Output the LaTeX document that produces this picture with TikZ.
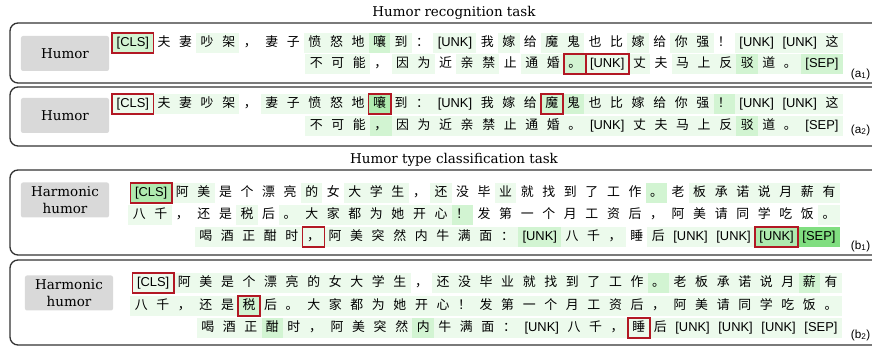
\documentclass[tikz,border=0pt]{standalone}
\usepackage{fontspec}
\setmainfont{DejaVu Serif}
\newfontfamily\cjk{Noto Sans CJK SC}
\newfontfamily\lat{Liberation Sans}
\usetikzlibrary{matrix}

\definecolor{hl}{RGB}{96,214,96}
\definecolor{boxred}{RGB}{178,24,36}
\definecolor{tagGray}{RGB}{217,217,217}

\newcommand{\CLS}{{\lat[CLS]}}
\newcommand{\UNK}{{\lat[UNK]}}
\newcommand{\SEP}{{\lat[SEP]}}

\begin{document}
\begin{tikzpicture}[
    x=0.3mm, y=-0.3mm,
    tok/.style={font=\cjk\fontsize{11}{13}\selectfont, inner xsep=1.3mm, inner ysep=0pt,
                minimum height=6mm, text height=3.1mm, text depth=0.9mm},
    s0/.style={fill=none},
    s1/.style={fill=hl!12},
    s2/.style={fill=hl!28},
    s3/.style={fill=hl!50},
    s4/.style={fill=hl!80},
    tokrow/.style={matrix of nodes, column sep=0pt, inner sep=0pt, anchor=east, nodes={tok,#1}},
    tokrow/.default=s0,
    hit/.style={draw=boxred, line width=0.55mm},
    panel/.style={draw=black!80, line width=0.4mm, rounded corners=2.4mm},
    tag/.style={fill=tagGray, rounded corners=0.6mm, minimum width=26.4mm, minimum height=10.5mm,
                align=center, font=\fontsize{11.5}{14.5}\selectfont},
    tasktitle/.style={font=\fontsize{11.5}{14}\selectfont},
    sub/.style={anchor=west, inner sep=0.5mm, font=\lat\fontsize{10}{11}\selectfont},
  ]
  \useasboundingbox (0,0) rectangle (872,347);
  \clip (0,0) rectangle (872,347);

  % Titles
  \node[tasktitle] (rec) at (454,13) {Humor recognition task};
  \node[tasktitle] (type) at (454,160) {Humor type classification task};

  % Panels
  \draw[panel] (10,23) rectangle (890,83);
  \draw[panel] (10,87) rectangle (890,146);
  \draw[panel] (10,170) rectangle (890,255);
  \draw[panel] (10,260) rectangle (890,345);

  % Class tags
  \node[tag] (tagA1) at (65,53.5) {Humor};
  \node[tag] (tagA2) at (65,115.5) {Humor};
  \node[tag] (tagB1) at (65,200) {Harmonic\\humor};
  \node[tag] (tagB2) at (69,293) {Harmonic\\humor};

  % (a1)
  \matrix (a1r1) [tokrow] at (843,43) {
    |[s2]| \CLS & 夫 & 妻 & |[s1]| 吵 & |[s1]| 架 & ， & 妻 & 子 & |[s1]| 愤 & |[s1]| 怒 & |[s1]| 地 & |[s2]| 嚷 & |[s1]| 到 & ： & |[s1]| \UNK & 我 & |[s1]| 嫁 & 给 & |[s1]| 魔 & |[s1]| 鬼 & 也 & 比 & |[s1]| 嫁 & 给 & |[s1]| 你 & |[s1]| 强 & ！ & |[s1]| \UNK & |[s1]| \UNK & |[s1]| 这 \\
  };
  \matrix (a1r2) [tokrow=s1] at (843,64) {
    不 & 可 & 能 & |[s0]| ， & 因 & 为 & |[s0]| 近 & 亲 & 禁 & |[s0]| 止 & 通 & 婚 & |[s2]| 。 & \UNK & 丈 & |[s0]| 夫 & 马 & 上 & 反 & |[s2]| 驳 & 道 & 。 & |[s2]| \SEP \\
  };
  \node[sub] (subA1) at (849,74) {(a\textsubscript{1})};

  % (a2)
  \matrix (a2r1) [tokrow=s1] at (843,104) {
    \CLS & 夫 & 妻 & 吵 & 架 & |[s0]| ， & 妻 & 子 & 愤 & 怒 & 地 & |[s3]| 嚷 & 到 & ： & \UNK & 我 & 嫁 & 给 & |[s2]| 魔 & |[s2]| 鬼 & 也 & 比 & 嫁 & 给 & 你 & 强 & |[s2]| ！ & \UNK & \UNK & 这 \\
  };
  \matrix (a2r2) [tokrow=s1] at (843,126) {
    不 & 可 & 能 & |[s2]| ， & 因 & 为 & 近 & 亲 & 禁 & 止 & 通 & 婚 & 。 & \UNK & 丈 & 夫 & 马 & 上 & 反 & |[s2]| 驳 & 道 & 。 & \SEP \\
  };
  \node[sub] (subA2) at (849,130) {(a\textsubscript{2})};

  % (b1)
  \matrix (b1r1) [tokrow] at (840,193) {
    |[s3]| \CLS & |[s1]| 阿 & |[s1]| 美 & 是 & 个 & 漂 & 亮 & |[s1]| 的 & 女 & |[s1]| 大 & |[s1]| 学 & |[s1]| 生 & ， & |[s1]| 还 & 没 & 毕 & |[s1]| 业 & 就 & 找 & 到 & 了 & 工 & 作 & |[s2]| 。 & 老 & |[s1]| 板 & |[s1]| 承 & |[s1]| 诺 & |[s1]| 说 & |[s1]| 月 & |[s1]| 薪 & |[s1]| 有 \\
  };
  \matrix (b1r2) [tokrow] at (840,215) {
    |[s1]| 八 & |[s1]| 千 & ， & 还 & 是 & |[s1]| 税 & 后 & |[s1]| 。 & |[s1]| 大 & |[s1]| 家 & |[s1]| 都 & |[s1]| 为 & |[s1]| 她 & |[s1]| 开 & |[s1]| 心 & |[s2]| ！ & 发 & 第 & 一 & 个 & 月 & 工 & 资 & 后 & ， & 阿 & 美 & 请 & 同 & 学 & 吃 & 饭 & |[s1]| 。 \\
  };
  \matrix (b1r3) [tokrow=s1] at (840,237) {
    喝 & 酒 & 正 & 酣 & 时 & ， & 阿 & 美 & 突 & 然 & 内 & 牛 & 满 & 面 & ： & |[s2]| \UNK & 八 & 千 & ， & |[s0]| 睡 & 后 & \UNK & \UNK & |[s3]| \UNK & |[s4]| \SEP \\
  };
  \node[sub] (subB1) at (849,246) {(b\textsubscript{1})};

  % (b2)
  \matrix (b2r1) [tokrow=s1] at (842,283) {
    \CLS & 阿 & 美 & 是 & 个 & 漂 & 亮 & 的 & 女 & 大 & 学 & 生 & |[s0]| ， & 还 & 没 & 毕 & 业 & 就 & 找 & 到 & 了 & 工 & 作 & |[s2]| 。 & 老 & 板 & 承 & 诺 & 说 & 月 & |[s2]| 薪 & 有 \\
  };
  \matrix (b2r2) [tokrow=s1] at (842,306) {
    八 & 千 & ， & 还 & 是 & |[s2]| 税 & 后 & 。 & 大 & 家 & 都 & 为 & 她 & 开 & 心 & ！ & 发 & 第 & 一 & 个 & 月 & 工 & 资 & 后 & ， & 阿 & 美 & 请 & 同 & 学 & 吃 & 饭 & 。 \\
  };
  \matrix (b2r3) [tokrow=s1] at (842,328) {
    喝 & 酒 & 正 & |[s2]| 酣 & 时 & ， & 阿 & 美 & 突 & 然 & |[s2]| 内 & 牛 & 满 & 面 & ： & \UNK & 八 & 千 & ， & 睡 & 后 & \UNK & \UNK & \UNK & \SEP \\
  };
  \node[sub] (subB2) at (849,335) {(b\textsubscript{2})};

  % Red boxes on the marked tokens
  \foreach \c in {a1r1-1-1, a1r2-1-13, a1r2-1-14, a2r1-1-1, a2r1-1-12, a2r1-1-19,
                  b1r1-1-1, b1r3-1-6, b1r3-1-24, b2r1-1-1, b2r2-1-6, b2r3-1-20}
    \draw[hit] (\c.north west) rectangle (\c.south east);

\end{tikzpicture}
\end{document}
